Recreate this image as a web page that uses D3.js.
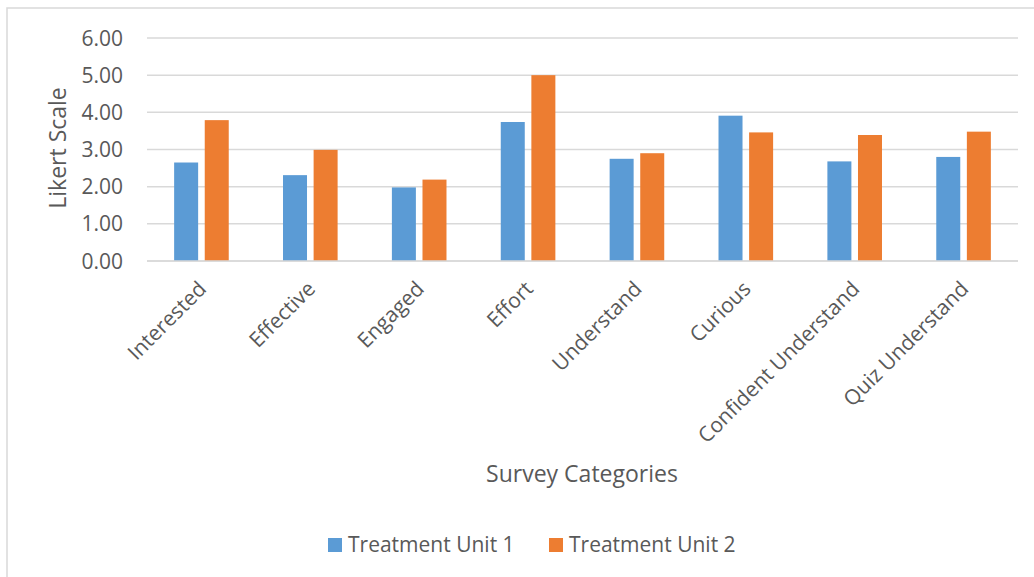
<!DOCTYPE html>
<html>
<head>
<meta charset="utf-8">
<script src="https://cdn.jsdelivr.net/npm/d3@7"></script>
<style>
  body { margin: 0; background: #fff; }
  text { font-family: "Open Sans", sans-serif; fill: #595959; }
</style>
</head>
<body>
<div id="chart"></div>
<script>
// Survey categories and the two series
var categories = ["Interested", "Effective", "Engaged", "Effort", "Understand",
                  "Curious", "Confident Understand", "Quiz Understand"];
var unit1 = [2.65, 2.31, 1.98, 3.74, 2.75, 3.91, 2.68, 2.80];
var unit2 = [3.79, 2.99, 2.19, 5.00, 2.90, 3.46, 3.39, 3.48];
var seriesNames = ["Treatment Unit 1", "Treatment Unit 2"];
var colours = ["#5B9BD5", "#ED7D31"];
var yTicks = [0, 1, 2, 3, 4, 5, 6];

var width = 1034, height = 577;
var margin = { top: 38, left: 147, right: 16, bottom: 318 };

var svg = d3.select("#chart").append("svg")
    .attr("width", width)
    .attr("height", height);

// chart frame (right edge runs off the picture)
svg.append("path")
    .attr("d", "M7,577 V8 H1040")
    .attr("fill", "none")
    .attr("stroke", "#D9D9D9")
    .attr("stroke-width", 1.5);

var x = d3.scaleBand()
    .domain(categories)
    .range([margin.left, width - margin.right]);

var y = d3.scaleLinear()
    .domain([0, 6])
    .range([height - margin.bottom + 2, margin.top]);

// gridlines
svg.append("g")
    .selectAll("line")
    .data(yTicks)
    .enter().append("line")
    .attr("x1", margin.left)
    .attr("x2", width - margin.right)
    .attr("y1", function(d) { return y(d); })
    .attr("y2", function(d) { return y(d); })
    .attr("stroke", "#D9D9D9")
    .attr("stroke-width", 1.5);

// y tick labels
svg.append("g")
    .selectAll("text")
    .data(yTicks)
    .enter().append("text")
    .attr("x", 123)
    .attr("y", function(d) { return y(d); })
    .attr("dy", "0.36em")
    .attr("text-anchor", "end")
    .style("font-size", "21px")
    .text(function(d) { return d3.format(".2f")(d); });

// bars
var barW = 24, gap = 6.6;
var rows = categories.map(function(c, i) { return [unit1[i], unit2[i]]; });
var groups = svg.append("g")
    .selectAll("g")
    .data(rows)
    .enter().append("g")
    .attr("transform", function(d, i) {
        return "translate(" + (x(categories[i]) + x.bandwidth() / 2) + ",0)";
    });
groups.selectAll("rect")
    .data(function(d) { return d; })
    .enter().append("rect")
    .attr("x", function(d, j) { return j === 0 ? -barW - gap / 2 : gap / 2; })
    .attr("width", barW)
    .attr("y", function(d) { return y(d); })
    .attr("height", function(d) { return y(0) - y(d); })
    .attr("fill", function(d, j) { return colours[j]; });

// baseline drawn over the bars
svg.append("line")
    .attr("x1", margin.left)
    .attr("x2", width - margin.right)
    .attr("y1", y(0))
    .attr("y2", y(0))
    .attr("stroke", "#D9D9D9")
    .attr("stroke-width", 1.5);

// x category labels, rotated
svg.append("g")
    .selectAll("text")
    .data(categories)
    .enter().append("text")
    .attr("text-anchor", "end")
    .style("font-size", "21px")
    .attr("transform", function(d) {
        var cx = x(d) + x.bandwidth() / 2 + 1;
        return "translate(" + cx + "," + (y(0) + 24) + ") rotate(-45)";
    })
    .attr("dy", "0.35em")
    .text(function(d) { return d; });

// axis titles
svg.append("text")
    .attr("transform", "translate(58,148) rotate(-90)")
    .attr("dy", "0.35em")
    .attr("text-anchor", "middle")
    .style("font-size", "23px")
    .text("Likert Scale");

svg.append("text")
    .attr("x", 582)
    .attr("y", 482)
    .attr("text-anchor", "middle")
    .style("font-size", "23px")
    .text("Survey Categories");

// legend
var legendX = [328, 549];
var legend = svg.append("g")
    .selectAll("g")
    .data(seriesNames)
    .enter().append("g")
    .attr("transform", function(d, i) { return "translate(" + legendX[i] + ",538)"; });
legend.append("rect")
    .attr("width", 14)
    .attr("height", 14)
    .attr("fill", function(d, i) { return colours[i]; });
legend.append("text")
    .attr("x", 20)
    .attr("y", 14)
    .style("font-size", "21px")
    .text(function(d) { return d; });
</script>
</body>
</html>
